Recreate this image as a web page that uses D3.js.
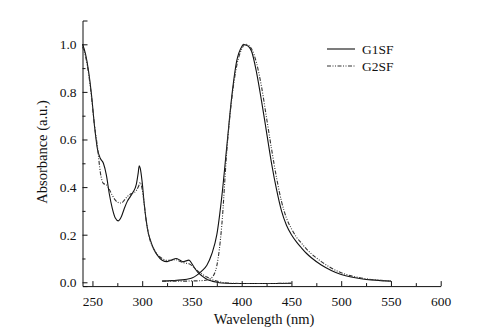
<!DOCTYPE html>
<html>
<head>
<meta charset="utf-8">
<script src="https://cdn.jsdelivr.net/npm/d3@7"></script>
<style>
  body { margin: 0; background: #fff; }
  svg text { font-family: "Liberation Serif", "Times New Roman", serif; fill: #111; }
</style>
</head>
<body>
<div id="chart"></div>
<script>
// absorption spectra (wavelength in nm)
var absWl = [240,243,246,249,252,255,258,261,264,267,270,273,276,279,282,285,288,291,294,296,297,298,300,302,304,306,308,311,315,320,325,330,334,338,341,344,347,350,353,356,360,365,370,375,380,390,400,425,450];
var absG1 = [1.0,0.96,0.89,0.79,0.66,0.56,0.52,0.50,0.45,0.37,0.31,0.27,0.258,0.275,0.31,0.34,0.36,0.38,0.41,0.46,0.49,0.48,0.42,0.33,0.26,0.21,0.18,0.145,0.115,0.093,0.087,0.094,0.10,0.093,0.086,0.09,0.093,0.078,0.058,0.042,0.027,0.013,0.005,0.0,-0.003,-0.005,-0.005,-0.005,-0.004];
var absG2 = [0.99,0.95,0.88,0.78,0.66,0.57,0.46,0.415,0.41,0.39,0.365,0.345,0.335,0.333,0.345,0.36,0.37,0.375,0.385,0.40,0.41,0.42,0.39,0.33,0.26,0.21,0.175,0.145,0.118,0.10,0.092,0.093,0.095,0.088,0.083,0.08,0.078,0.07,0.058,0.047,0.035,0.022,0.012,0.005,0.0,-0.004,-0.005,-0.005,-0.004];

// emission spectra
var emWl = [320,330,340,345,350,355,360,365,370,375,380,385,390,395,400,402,404,407,410,415,420,425,430,435,440,445,450,455,460,465,470,480,490,500,510,520,530,540,550];
var emG1 = [0.005,0.007,0.01,0.013,0.018,0.03,0.048,0.072,0.12,0.2,0.36,0.57,0.78,0.93,0.99,1.0,0.997,0.99,0.97,0.88,0.76,0.63,0.5,0.39,0.3,0.24,0.2,0.17,0.145,0.122,0.103,0.073,0.05,0.033,0.022,0.015,0.01,0.007,0.005];
var emG2 = [0.005,0.005,0.005,0.005,0.006,0.006,0.007,0.01,0.02,0.07,0.24,0.55,0.77,0.91,0.98,0.995,1.0,0.995,0.98,0.92,0.82,0.69,0.56,0.44,0.34,0.27,0.225,0.19,0.165,0.14,0.12,0.087,0.06,0.04,0.027,0.018,0.012,0.008,0.005];

var xTicks = [250,300,350,400,450,500,550,600];
var yTicks = [0.0,0.2,0.4,0.6,0.8,1.0];
var seriesNames = ["G1SF","G2SF"];

var w = 485, h = 331;
var svg = d3.select("#chart").append("svg")
    .attr("width", w)
    .attr("height", h);

var x = d3.scaleLinear().domain([240, 600]).range([82.5, 440.7]);
var y = d3.scaleLinear().domain([-0.016, 1.1]).range([286.1, 20.5]);

// minor ticks
svg.append("g")
    .attr("transform", "translate(0," + y.range()[0] + ")")
    .call(d3.axisBottom(x).tickValues(d3.range(275, 600, 50)).tickSize(-3).tickFormat(""))
    .call(function(g) { g.select(".domain").remove(); });
svg.append("g")
    .attr("transform", "translate(" + x.range()[0] + ",0)")
    .call(d3.axisLeft(y).tickValues([0.1,0.3,0.5,0.7,0.9]).tickSize(-3).tickFormat(""))
    .call(function(g) { g.select(".domain").remove(); });

// main axes, ticks inward
svg.append("g")
    .attr("transform", "translate(0," + y.range()[0] + ")")
    .call(d3.axisBottom(x).tickValues(xTicks).tickSize(-5).tickSizeOuter(0).tickPadding(10));
svg.append("g")
    .attr("transform", "translate(" + x.range()[0] + ",0)")
    .call(d3.axisLeft(y).tickValues(yTicks).tickSize(-5).tickSizeOuter(-5).tickPadding(6).tickFormat(d3.format(".1f")));

svg.selectAll(".tick text").attr("font-size", 13.5).attr("font-family", null);
svg.selectAll(".domain, .tick line").attr("stroke", "#111");

// axis titles
svg.append("text")
    .attr("x", 264).attr("y", 324)
    .attr("text-anchor", "middle")
    .attr("font-size", 14.5)
    .text("Wavelength (nm)");
svg.append("text")
    .attr("transform", "translate(47,152) rotate(-90)")
    .attr("text-anchor", "middle")
    .attr("font-size", 14.5)
    .text("Absorbance (a.u.)");

var line = d3.line()
    .x(function(d) { return x(d[0]); })
    .y(function(d) { return y(d[1]); })
    .curve(d3.curveMonotoneX);

function pairs(wl, vals) {
    return wl.map(function(d, i) { return [d, vals[i]]; });
}

var dashG2 = "4,1.5,1,1.5,1,1.5";

var curves = [
    { data: pairs(absWl, absG1), dash: null, color: "#111" },
    { data: pairs(absWl, absG2), dash: dashG2, color: "#333" },
    { data: pairs(emWl, emG1), dash: null, color: "#111" },
    { data: pairs(emWl, emG2), dash: dashG2, color: "#333" }
];

svg.selectAll("path.curve")
    .data(curves)
    .enter()
    .append("path")
    .attr("class", "curve")
    .attr("fill", "none")
    .attr("stroke", function(d) { return d.color; })
    .attr("stroke-width", 1.1)
    .attr("stroke-dasharray", function(d) { return d.dash; })
    .attr("d", function(d) { return line(d.data); });

// legend
var legend = svg.append("g").attr("transform", "translate(327,49)");
seriesNames.forEach(function(name, i) {
    var g = legend.append("g").attr("transform", "translate(0," + (i * 17) + ")");
    g.append("line")
        .attr("x1", 0).attr("x2", 28)
        .attr("y1", 0).attr("y2", 0)
        .attr("stroke", i == 0 ? "#111" : "#333")
        .attr("stroke-width", 1.1)
        .attr("stroke-dasharray", i == 0 ? null : dashG2);
    g.append("text")
        .attr("x", 35).attr("y", 4.5)
        .attr("font-size", 13.5)
        .text(name);
});
</script>
</body>
</html>
